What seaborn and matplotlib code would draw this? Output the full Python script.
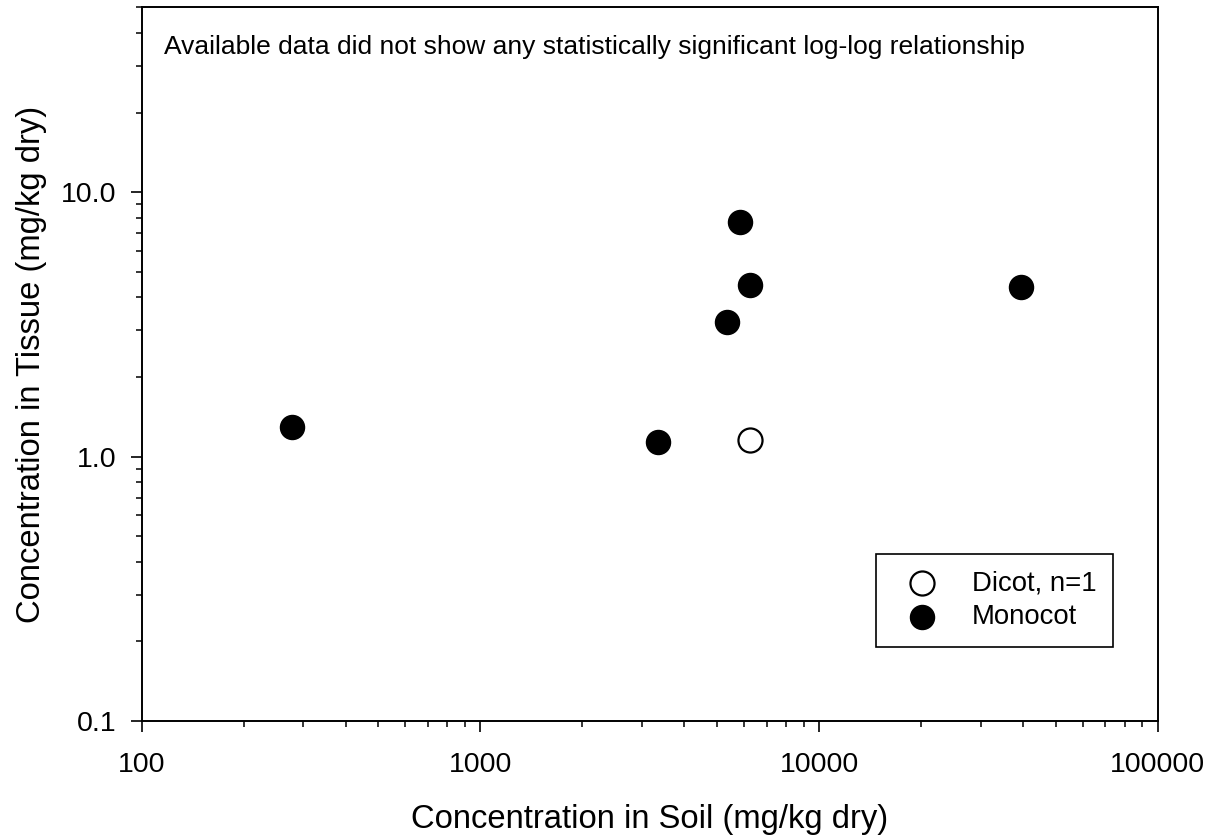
import matplotlib
matplotlib.use("Agg")
import matplotlib.pyplot as plt
import seaborn as sns
import pandas as pd
from matplotlib.ticker import FixedLocator, FixedFormatter, LogLocator, NullFormatter

# Data
mono_soil = [278, 3350, 5350, 5840, 6270, 39500]
mono_tissue = [1.29, 1.14, 3.22, 7.74, 4.46, 4.38]
dicot_soil = [6270]
dicot_tissue = [1.16]
x_ticks = [100, 1000, 10000, 100000]
x_labels = ["100", "1000", "10000", "100000"]
y_ticks = [0.1, 1.0, 10.0]
y_labels = ["0.1", "1.0", "10.0"]

sns.set_style("white")
plt.rcParams['font.family'] = ['Liberation Sans', 'DejaVu Sans']
plt.rcParams['text.color'] = 'black'
plt.rcParams['axes.labelcolor'] = 'black'
plt.rcParams['xtick.color'] = 'black'
plt.rcParams['ytick.color'] = 'black'

fig = plt.figure(figsize=(12.15, 8.39), dpi=100)
ax = fig.add_axes([0.1165, 0.1406, 0.8365, 0.8507])

df_d = pd.DataFrame({"soil": dicot_soil, "tissue": dicot_tissue})
df_m = pd.DataFrame({"soil": mono_soil, "tissue": mono_tissue})

sns.scatterplot(data=df_d, x="soil", y="tissue", ax=ax, s=300, color="white",
                edgecolor="black", linewidth=1.6, label="Dicot, n=1", zorder=3)
sns.scatterplot(data=df_m, x="soil", y="tissue", ax=ax, s=300, color="black",
                edgecolor="black", linewidth=1.0, label="Monocot", zorder=3)

ax.set_xscale("log")
ax.set_yscale("log")
ax.set_xlim(100, 100000)
ax.set_ylim(0.1, 50)

ax.xaxis.set_major_locator(FixedLocator(x_ticks))
ax.xaxis.set_major_formatter(FixedFormatter(x_labels))
ax.yaxis.set_major_locator(FixedLocator(y_ticks))
ax.yaxis.set_major_formatter(FixedFormatter(y_labels))
ax.xaxis.set_minor_locator(LogLocator(base=10, subs=range(2, 10)))
ax.yaxis.set_minor_locator(LogLocator(base=10, subs=range(2, 10)))
ax.xaxis.set_minor_formatter(NullFormatter())
ax.yaxis.set_minor_formatter(NullFormatter())

ax.tick_params(axis="both", which="major", direction="out", length=8, width=1.2,
               labelsize=20.5, color="black", pad=14, bottom=True, left=True)
ax.tick_params(axis="both", which="minor", direction="out", length=4.5, width=1.1,
               color="black", bottom=True, left=True)
ax.tick_params(axis="y", which="major", pad=10)

for sp in ax.spines.values():
    sp.set_visible(True)
    sp.set_color("black")
    sp.set_linewidth(1.4)

ax.set_xlabel("Concentration in Soil (mg/kg dry)", fontsize=23.6, labelpad=19)
ax.set_ylabel("Concentration in Tissue (mg/kg dry)", fontsize=23.6, labelpad=10)

ax.text(0.022, 0.945, "Available data did not show any statistically significant log-log relationship",
        transform=ax.transAxes, fontsize=19, ha="left", va="center")

leg = ax.legend(loc="lower left", bbox_to_anchor=(0.7226, 0.1033), borderaxespad=0,
                fontsize=19.8, frameon=True, fancybox=False, edgecolor="black",
                framealpha=1, markerscale=1.0, handletextpad=0.76, labelspacing=0.28,
                borderpad=0.62, handlelength=2.1)
leg.get_frame().set_linewidth(1.2)

fig.savefig("out.png", dpi=100)
